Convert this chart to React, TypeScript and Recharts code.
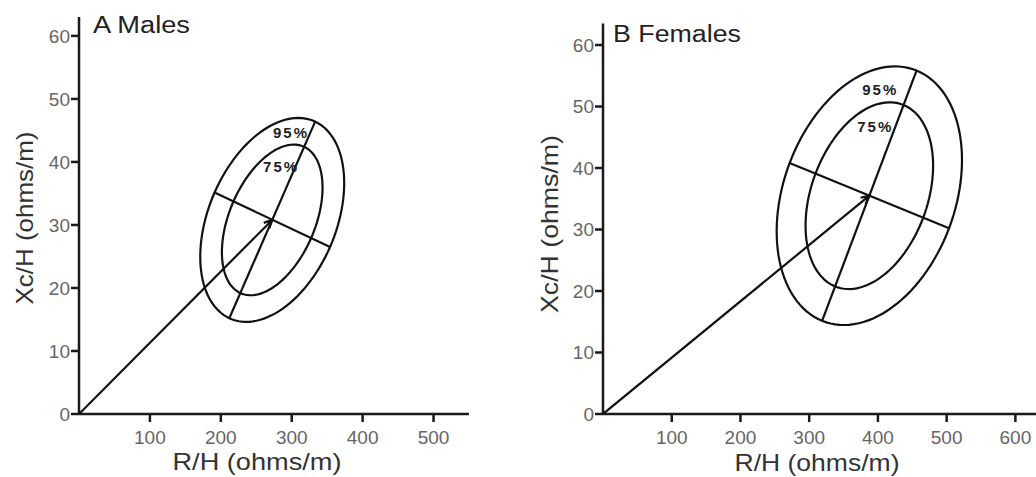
import React from 'react';
import { ScatterChart, Scatter, XAxis, YAxis } from 'recharts';

const FONT = '"Liberation Sans", Arial, sans-serif';

const yTicks = [0, 10, 20, 30, 40, 50, 60];

// A: males
const maleXTicks = [100, 200, 300, 400, 500];
const maleCenter = { r: 272.5, xc: 30.8 };
const maleOrigin = { r: 0, xc: 0 };
const maleMajorAxis = [{ r: 212, xc: 15.2 }, { r: 333, xc: 46.4 }];
const maleMinorAxis = [{ r: 192, xc: 35.1 }, { r: 354, xc: 26.5 }];
// ellipse = centre, end of long semi-axis, end of short semi-axis
const maleEllipse95 = [maleCenter, { r: 333, xc: 46.4 }, { r: 354, xc: 26.5 }];
const maleEllipse75 = [maleCenter, { r: 317.6, xc: 42.4 }, { r: 327.3, xc: 27.9 }];
const malePctLabels = [
  { r: 299, xc: 44.6, text: '95%' },
  { r: 285, xc: 39.2, text: '75%' },
];

// B: females
const femaleXTicks = [100, 200, 300, 400, 500, 600];
const femaleCenter = { r: 387.5, xc: 35.5 };
const femaleOrigin = { r: 0, xc: 0 };
const femaleMajorAxis = [{ r: 318.8, xc: 15.15 }, { r: 456.2, xc: 55.85 }];
const femaleMinorAxis = [{ r: 271.5, xc: 40.8 }, { r: 503.5, xc: 30.2 }];
const femaleEllipse95 = [femaleCenter, { r: 456.2, xc: 55.85 }, { r: 503.5, xc: 30.2 }];
const femaleEllipse75 = [femaleCenter, { r: 437.3, xc: 50.25 }, { r: 465.8, xc: 31.9 }];
const femalePctLabels = [
  { r: 403.4, xc: 52.8, text: '95%' },
  { r: 396.2, xc: 46.8, text: '75%' },
];

const INK = '#111';
const LW = 2.2;

// draws the ellipse through the pixel points the scatter hands over
const EllipseLine = (props: any) => {
  const pts = props.points;
  if (!pts || pts.length < 3) return <g />;
  const [c, a, b] = pts;
  const ux = a.x - c.x, uy = a.y - c.y;
  const vx = b.x - c.x, vy = b.y - c.y;
  let d = '';
  const n = 120;
  for (let i = 0; i <= n; i++) {
    const t = (i / n) * Math.PI * 2;
    const x = c.x + ux * Math.cos(t) + vx * Math.sin(t);
    const y = c.y + uy * Math.cos(t) + vy * Math.sin(t);
    d += (i === 0 ? 'M' : 'L') + x.toFixed(2) + ',' + y.toFixed(2);
  }
  return <path d={d + 'Z'} fill="none" stroke={INK} strokeWidth={LW} />;
};

const ArrowLine = (props: any) => {
  const pts = props.points;
  if (!pts || pts.length < 2) return <g />;
  const [o, c] = pts;
  const ang = Math.atan2(c.y - o.y, c.x - o.x);
  const len = 9;
  const spread = 0.45;
  const h1x = c.x - len * Math.cos(ang - spread), h1y = c.y - len * Math.sin(ang - spread);
  const h2x = c.x - len * Math.cos(ang + spread), h2y = c.y - len * Math.sin(ang + spread);
  return (
    <path
      d={`M${o.x},${o.y}L${c.x},${c.y}M${h1x},${h1y}L${c.x},${c.y}L${h2x},${h2y}`}
      fill="none"
      stroke={INK}
      strokeWidth={LW}
    />
  );
};

const noDot = () => <g />;

const pctShape = (p: any) => (
  <text
    x={p.cx}
    y={p.cy}
    textAnchor="middle"
    dominantBaseline="central"
    fontFamily={FONT}
    fontWeight="bold"
    fontSize={15}
    letterSpacing={2}
    fill="#222"
  >
    {p.payload.text}
  </text>
);

const axisStroke = { stroke: '#1a1a1a', strokeWidth: 2.5 };
const tickStyle = { fill: '#666', fontSize: 19, fontFamily: FONT };

interface PanelProps {
  width: number;
  yAxisWidth: number;
  top: number;
  right: number;
  xMax: number;
  yMax: number;
  xTicks: number[];
  origin: { r: number; xc: number };
  center: { r: number; xc: number };
  majorAxis: { r: number; xc: number }[];
  minorAxis: { r: number; xc: number }[];
  e95: { r: number; xc: number }[];
  e75: { r: number; xc: number }[];
  pct: { r: number; xc: number; text: string }[];
  xTitle: { x: number; y: number; len: number };
  yTitle: { x: number; y: number; len: number };
}

const Panel: React.FC<PanelProps> = (p) => (
  <ScatterChart
    width={p.width}
    height={477}
    margin={{ top: p.top, right: p.right, bottom: 0, left: 0 }}
  >
    <XAxis
      type="number"
      dataKey="r"
      domain={[0, p.xMax]}
      ticks={p.xTicks}
      interval={0}
      allowDataOverflow
      height={63}
      tickSize={8}
      tickMargin={9}
      axisLine={axisStroke}
      tickLine={axisStroke}
      tick={tickStyle}
      label={{
        content: () => (
          <text
            x={p.xTitle.x}
            y={p.xTitle.y}
            textAnchor="middle"
            fontFamily={FONT}
            fontSize={24}
            fill="#333"
            textLength={p.xTitle.len}
            lengthAdjust="spacingAndGlyphs"
          >
            R/H (ohms/m)
          </text>
        ),
      }}
    />
    <YAxis
      type="number"
      dataKey="xc"
      domain={[0, p.yMax]}
      ticks={yTicks}
      interval={0}
      allowDataOverflow
      width={p.yAxisWidth}
      tickSize={8}
      tickMargin={1}
      axisLine={axisStroke}
      tickLine={axisStroke}
      tick={tickStyle}
      label={{
        content: () => (
          <text
            x={p.yTitle.x}
            y={p.yTitle.y}
            transform={`rotate(-90 ${p.yTitle.x} ${p.yTitle.y})`}
            textAnchor="middle"
            fontFamily={FONT}
            fontSize={24}
            fill="#333"
            textLength={p.yTitle.len}
            lengthAdjust="spacingAndGlyphs"
          >
            Xc/H (ohms/m)
          </text>
        ),
      }}
    />
    <Scatter data={p.e95} shape={noDot} line={EllipseLine} isAnimationActive={false} />
    <Scatter data={p.e75} shape={noDot} line={EllipseLine} isAnimationActive={false} />
    <Scatter data={p.majorAxis} shape={noDot} line={{ stroke: INK, strokeWidth: LW }} isAnimationActive={false} />
    <Scatter data={p.minorAxis} shape={noDot} line={{ stroke: INK, strokeWidth: LW }} isAnimationActive={false} />
    <Scatter data={[p.origin, p.center]} shape={noDot} line={ArrowLine} isAnimationActive={false} />
    <Scatter data={p.pct} shape={pctShape} isAnimationActive={false} />
  </ScatterChart>
);

export default function App() {
  return (
    <div style={{ position: 'absolute', left: 0, top: 0, width: 1036, height: 477, background: '#fff' }}>
      <div style={{ position: 'absolute', left: 0, top: 0 }}>
        <Panel
          width={518}
          yAxisWidth={79}
          top={17}
          right={49}
          xMax={550}
          yMax={63}
          xTicks={maleXTicks}
          origin={maleOrigin}
          center={maleCenter}
          majorAxis={maleMajorAxis}
          minorAxis={maleMinorAxis}
          e95={maleEllipse95}
          e75={maleEllipse75}
          pct={malePctLabels}
          xTitle={{ x: 257, y: 470, len: 169 }}
          yTitle={{ x: 33, y: 218, len: 173 }}
        />
      </div>
      <div style={{ position: 'absolute', left: 518, top: 0 }}>
        <Panel
          width={518}
          yAxisWidth={85}
          top={23.5}
          right={0}
          xMax={630}
          yMax={63.5}
          xTicks={femaleXTicks}
          origin={femaleOrigin}
          center={femaleCenter}
          majorAxis={femaleMajorAxis}
          minorAxis={femaleMinorAxis}
          e95={femaleEllipse95}
          e75={femaleEllipse75}
          pct={femalePctLabels}
          xTitle={{ x: 299, y: 471, len: 165 }}
          yTitle={{ x: 40, y: 224, len: 178 }}
        />
      </div>
      <svg
        width={1036}
        height={477}
        style={{ position: 'absolute', left: 0, top: 0, pointerEvents: 'none' }}
      >
        <text x={93} y={33} fontFamily={FONT} fontSize={23} fill="#222" textLength={97} lengthAdjust="spacingAndGlyphs">
          A Males
        </text>
        <text x={613} y={41.5} fontFamily={FONT} fontSize={23} fill="#222" textLength={128} lengthAdjust="spacingAndGlyphs">
          B Females
        </text>
      </svg>
    </div>
  );
}
